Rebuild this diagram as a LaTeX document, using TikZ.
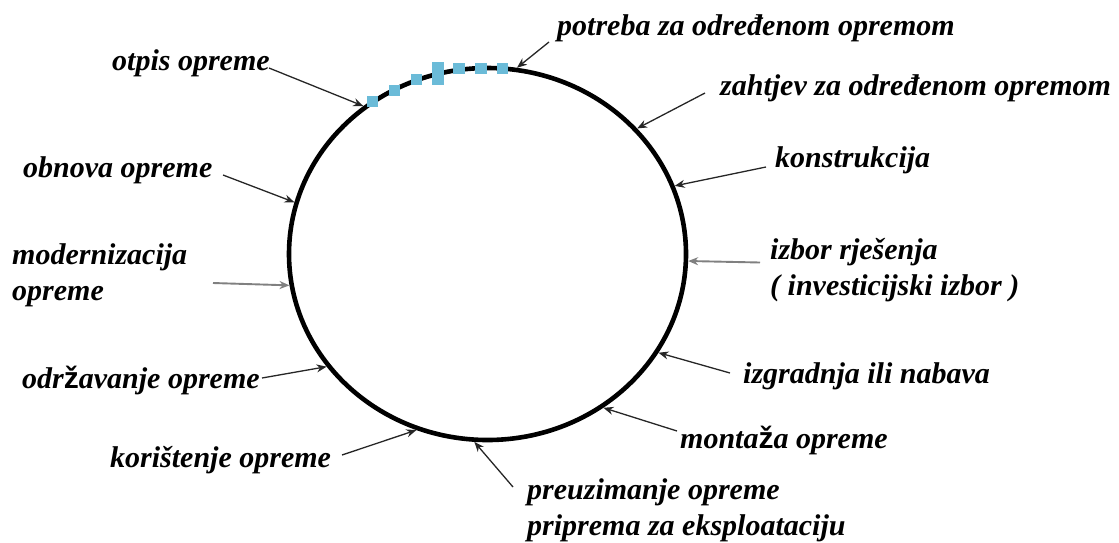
\documentclass[tikz,border=0pt]{standalone}
\usepackage{fontspec}
\setmainfont{Liberation Serif}
\newfontfamily\zfont{Liberation Sans}
\usetikzlibrary{shapes.geometric,arrows.meta}
\definecolor{sqblue}{HTML}{6BBBD8}
\newcommand{\zz}{{\zfont\upshape\bfseries ž}}
\begin{document}
\begin{tikzpicture}[x=1pt,y=-1pt,
  lbl/.style={anchor=west,inner sep=0pt,font=\fontsize{30}{36}\selectfont\bfseries\itshape,align=left},
  arr/.style={-{Stealth[length=10pt,width=8pt]},line width=1.3pt,draw=black!85},
  garr/.style={arr,draw=black!50,line width=1.9pt},
  sq/.style={fill=sqblue,draw=none}
]
\useasboundingbox (0,0) rectangle (1119,542);
\node[draw,ellipse,line width=4.6pt,minimum width=397pt,minimum height=372pt,inner sep=0pt] (c) at (487.5,254) {};
% blue squares on top arc
\fill[sq] (367,96) rectangle (378,107);
\fill[sq] (389,85) rectangle (400,96);
\fill[sq] (411,74) rectangle (422,85);
\fill[sq] (432,62) rectangle (444,85);
\fill[sq] (453,63) rectangle (465,74);
\fill[sq] (475,63) rectangle (487,74);
\fill[sq] (497,63) rectangle (508,74);
% labels
\node[lbl] (potreba) at (557,28) {potreba za određenom opremom};
\node[lbl] (zahtjev) at (720,88) {zahtjev za određenom opremom};
\node[lbl] (konstr) at (775,160) {konstrukcija};
\node[lbl] (izbor) at (770,270) {izbor rješenja\\( investicijski izbor )};
\node[lbl] (izgr) at (743,376) {izgradnja ili nabava};
\node[lbl] (mont) at (680,440) {monta\zz a opreme};
\node[lbl] (preuz) at (527,510) {preuzimanje opreme\\priprema za eksploataciju};
\node[lbl] (koris) at (110,460) {korištenje opreme};
\node[lbl] (odrz) at (22,380) {odr\zz avanje opreme};
\node[lbl] (modern) at (12,275) {modernizacija\\opreme};
\node[lbl] (obnova) at (23,170) {obnova opreme};
\node[lbl] (otpis) at (112,63) {otpis opreme};
% arrow start points
\coordinate (spotreba) at (549,42);
\coordinate (szahtjev) at (705,93);
\coordinate (skonstr) at (766,167);
\coordinate (sizbor) at (760,262.5);
\coordinate (sizgr) at (730,373);
\coordinate (smont) at (677,431);
\coordinate (spreuz) at (513,487);
\coordinate (skoris) at (342,455);
\coordinate (sodrz) at (262,378);
\coordinate (smodern) at (213,283);
\coordinate (sobnova) at (223,175);
\coordinate (sotpis) at (269,68);
% arrows
\draw[arr] (spotreba) -- (c.81.7);
\draw[arr] (szahtjev) -- (c.40.2);
\draw[arr] (skonstr) -- (c.20.2);
\draw[garr] (sizbor) -- (c.-2.5);
\draw[arr] (sizgr) -- (c.-30.3);
\draw[arr] (smont) -- (c.-53.5);
\draw[arr] (spreuz) -- (c.-94.3);
\draw[arr] (skoris) -- (c.-112);
\draw[arr] (sodrz) -- (c.-145);
\draw[garr] (smodern) -- (c.-171.7);
\draw[arr] (sobnova) -- (c.165.9);
\draw[arr] (sotpis) -- (c.130.4);
\end{tikzpicture}
\end{document}
